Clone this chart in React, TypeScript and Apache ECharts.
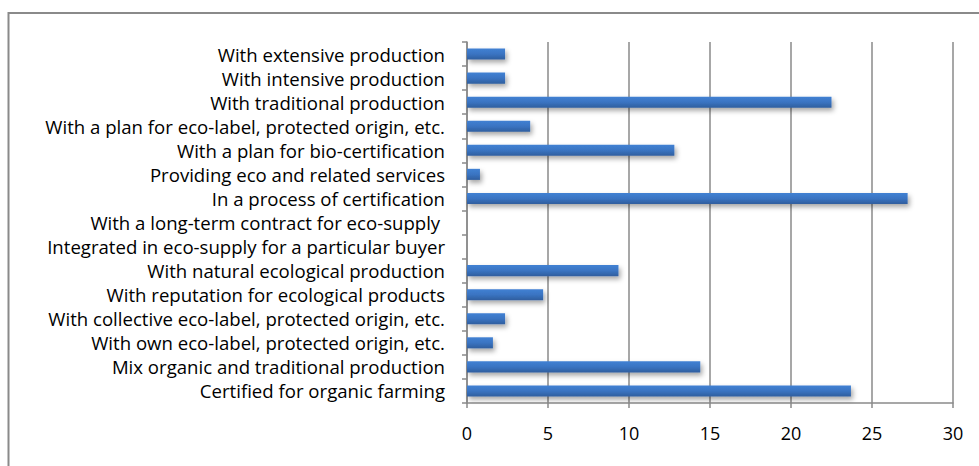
import React, { useEffect, useRef } from "react";
import * as echarts from "echarts";

const categories = [
  "Certified for organic farming",
  "Mix organic and traditional production",
  "With own eco-label, protected origin, etc.",
  "With collective eco-label, protected origin, etc.",
  "With reputation for ecological products",
  "With natural ecological production",
  "Integrated in eco-supply for a particular buyer",
  "With a long-term contract for eco-supply ",
  "In a process of certification",
  "Providing eco and related services",
  "With a plan for bio-certification",
  "With a plan for eco-label, protected origin, etc.",
  "With traditional production",
  "With intensive production",
  "With extensive production",
];

const values = [23.7, 14.4, 1.6, 2.35, 4.7, 9.35, 0, 0, 27.2, 0.8, 12.8, 3.9, 22.5, 2.35, 2.35];

const xTicks = { min: 0, max: 30, interval: 5 };

export default function App() {
  const ref = useRef<HTMLDivElement>(null);
  useEffect(() => {
    if (!ref.current) return;
    const chart = echarts.init(ref.current, null, { renderer: "svg" });
    const font = "'Open Sans', sans-serif";
    chart.setOption({
      animation: false,
      backgroundColor: "#ffffff",
      graphic: [
        {
          type: "rect",
          shape: { x: 8.5, y: 13, width: 1100, height: 600 },
          style: { fill: "none", stroke: "#8a8a8a", lineWidth: 2 },
          silent: true,
        },
      ],
      grid: { left: 467, right: 26, top: 42, bottom: 63, containLabel: false },
      xAxis: {
        type: "value",
        min: xTicks.min,
        max: xTicks.max,
        interval: xTicks.interval,
        axisLine: { show: true, lineStyle: { color: "#8a8a8a", width: 1.5 } },
        axisTick: { show: true, length: 5, lineStyle: { color: "#8a8a8a", width: 1.5 } },
        splitLine: { show: true, lineStyle: { color: "#8a8a8a", width: 1.5 } },
        axisLabel: { color: "#000", fontSize: 18, fontFamily: font, margin: 21 },
      },
      yAxis: {
        type: "category",
        data: categories,
        axisLine: { show: true, lineStyle: { color: "#8a8a8a", width: 1.5 } },
        axisTick: { show: true, length: 5, alignWithLabel: false, lineStyle: { color: "#8a8a8a", width: 1.5 } },
        axisLabel: { color: "#000", fontSize: 18.6, fontFamily: font, margin: 22, interval: 0 },
      },
      series: [
        {
          type: "bar",
          data: values,
          barWidth: "46%",
          itemStyle: {
            color: new echarts.graphic.LinearGradient(0, 0, 0, 1, [
              { offset: 0, color: "#4181d3" },
              { offset: 0.5, color: "#3a74c2" },
              { offset: 1, color: "#2f5e9e" },
            ]),
            shadowColor: "rgba(0,0,0,0.35)",
            shadowBlur: 5,
            shadowOffsetX: 2,
            shadowOffsetY: 3,
          },
        },
      ],
    });
    return () => chart.dispose();
  }, []);
  return (
    <div
      ref={ref}
      style={{ position: "fixed", left: 0, top: 0, width: 979, height: 466 }}
    />
  );
}
